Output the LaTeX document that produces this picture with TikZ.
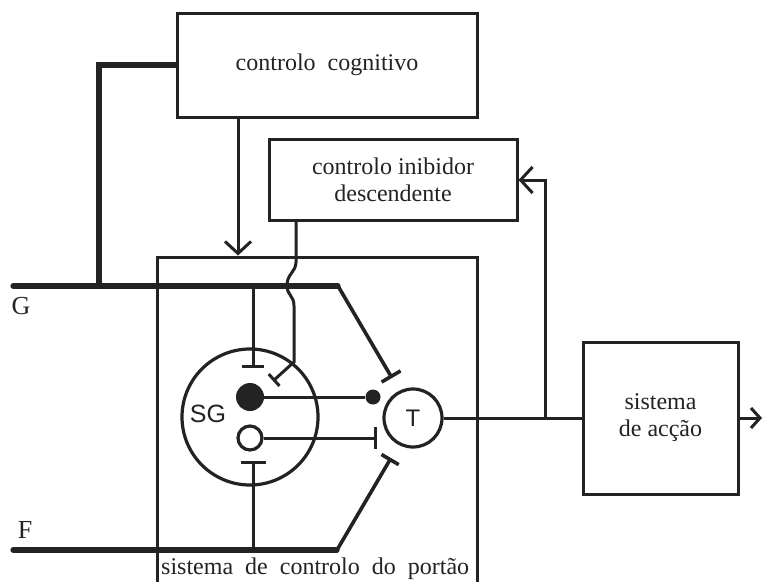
\documentclass[tikz,border=0pt]{standalone}
\usepackage{fontspec}
\setmainfont{Liberation Serif}
\newfontfamily\sgfont{Liberation Sans}
\usetikzlibrary{arrows.meta}
\definecolor{ink}{RGB}{35,35,35}
\begin{document}
\begin{tikzpicture}[x=1pt,y=-1pt,
  every node/.style={font=\fontsize{24}{27}\selectfont, text=ink},
  box/.style={draw=ink, line width=3pt, rectangle, inner sep=0pt, align=center},
  ring/.style={circle, draw=ink, line width=3.2pt, inner sep=0pt},
  blob/.style={circle, fill=ink, inner sep=0pt},
  wire/.style={draw=ink, line width=3pt},
  heavywire/.style={draw=ink, line width=5.2pt, line cap=round},
  inhib/.style={-{Bar[width=#1]}},
  inhib/.default=22pt,
  barb/.style={-{Straight Barb[length=12pt,width=26pt]}},
  smallbarb/.style={-{Straight Barb[length=9pt,width=20pt]}},
]
\path[use as bounding box, fill=white] (0,0) rectangle (763,581);

% boxes
\node[box, minimum width=300pt, minimum height=104pt] (cog) at (327,65) {controlo\ \ cognitivo};
\node[box, minimum width=248pt, minimum height=81pt] (inib) at (393,180) {controlo inibidor\\descendente};
\node[box, minimum width=320pt, minimum height=330pt] (gate) at (317,422) {};
\node[anchor=base west, inner sep=0pt] (gatelabel) at (161,574) {\spaceskip=0.5em sistema de controlo do portão};
\node[box, minimum width=155pt, minimum height=152pt] (act) at (660.5,418) {sistema\\de acção};

% circles
\node[ring, minimum size=136pt] (sg) at (250,417) {};
\node[font=\sgfont\fontsize{25}{25}\selectfont] (sglabel) at (208,414) {SG};
\node[blob, minimum size=28pt] (fd) at (250,397) {};
\node[ring, minimum size=24pt] (od) at (250,438) {};
\node[blob, minimum size=15pt] (sd) at (373,397) {};
\node[ring, minimum size=58pt, font=\sgfont\fontsize{24}{24}\selectfont] (t) at (413,418) {T};

% labels
\node[font=\fontsize{26}{26}\selectfont] (glab) at (21,306) {G};
\node[font=\fontsize{26}{26}\selectfont] (flab) at (25,530) {F};

% coordinates
\coordinate (g0) at (13,286);
\coordinate (g1) at (338,286);
\coordinate (gb) at (392,378);
\coordinate (f0) at (13,550);
\coordinate (f1) at (337,550);
\coordinate (fb) at (391,458);
\coordinate (gs) at (253,286);
\coordinate (gsb) at (253,368);
\coordinate (fs) at (253,550);
\coordinate (fsb) at (253,461);
\coordinate (ob) at (377,438);
\coordinate (cogx) at (99,0);
\coordinate (c1) at (238,0);
\coordinate (ci) at (296,0);
\coordinate (ib) at (273,381);
\coordinate (fbk) at (545,418);
\coordinate (out) at (762,418);

% connectors
\draw[heavywire] (g0) -- (g1);
\draw[wire, line width=3.6pt, inhib] (g1) -- (gb);
\draw[heavywire, line cap=butt] (cog.west) -| (cogx |- g0);
\draw[wire, barb] (c1 |- cog.south) -- (c1 |- gate.north);
\draw[wire, inhib=16pt] (ci |- inib.south) -- (296,262)
  .. controls (296,272) and (287,274) .. (287,285)
  .. controls (287,296) and (294,295) .. (294,306) -- (294,362) -- (ib);
\draw[wire, inhib] (gs) -- (gsb);
\draw[wire, inhib=25pt] (fs) -- (fsb);
\draw[heavywire] (f0) -- (f1);
\draw[wire, line width=3.6pt, inhib=20pt] (f1) -- (fb);
\draw[wire] (fd) -- (sd);
\draw[wire, inhib] (od) -- (ob);
\draw[wire] (t) -- (act);
\draw[wire, barb] (fbk) |- (inib.east);
\draw[wire, smallbarb] (act) -- (out);
\end{tikzpicture}
\end{document}
